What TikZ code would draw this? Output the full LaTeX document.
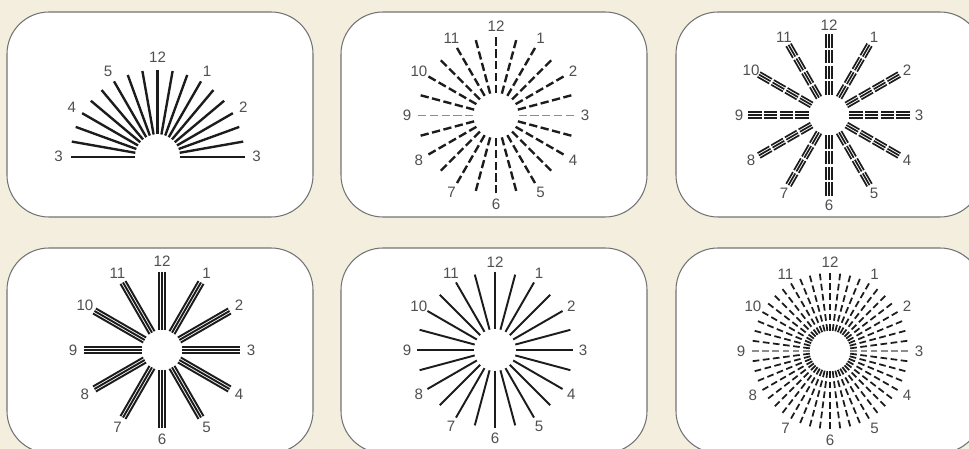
\documentclass[tikz,border=0pt]{standalone}
\usepackage{fontspec}
\setmainfont{Liberation Sans}
\usepackage{xcolor}
\definecolor{paper}{RGB}{243,238,222}
\definecolor{ink}{RGB}{28,28,28}
\definecolor{numgray}{RGB}{80,80,80}
\definecolor{rim}{RGB}{115,115,115}
\definecolor{faint}{RGB}{140,140,140}

\begin{document}
\begin{tikzpicture}[
    x=0.02cm, y=0.02cm,
    font=\fontsize{8.6}{10}\selectfont,
    panel/.style={draw=rim, line width=0.6pt, fill=white, rounded corners=0.84cm},
    num/.style={text=numgray, inner sep=0pt},
    ray/.style={draw=ink, line width=1.35pt},
    thinray/.style={draw=ink, line width=1.1pt},
    dashray/.style={draw=ink, line width=1.35pt, dash pattern=on 4.7pt off 2pt},
    fineray/.style={draw=ink, line width=1pt, dash pattern=on 3.8pt off 2pt},
    triray/.style={draw=ink, line width=0.95pt}
  ]
  \clip (0,0) rectangle (969,449);
  \fill[paper] (0,0) rectangle (969,449);

  % six cards
  \foreach \cx in {160,494,829}
    \foreach \cy in {334.5,98.5}
      \draw[panel] (\cx-153,\cy-102.5) rectangle (\cx+153,\cy+102.5);

  % half fan
  \begin{scope}[shift={(157.5,292.3)}]
    \foreach \a in {0,10,...,180}
      \draw[ray] (\a:22.5) -- (\a:87);
    \foreach \a/\n in {180/3,150/4,120/5,90/12,60/1,30/2,0/3}
      \node[num] (fan-\a) at (\a:99) {\n};
  \end{scope}

  % dashed dial, 24 rays
  \begin{scope}[shift={(496,333.5)}]
    \foreach \a in {15,30,...,165,195,210,...,345}
      \draw[dashray] (\a:78) -- (\a:21);
    \draw[dashray, draw=faint, line width=0.9pt] (0:78) -- (0:21);
    \draw[dashray, draw=faint, line width=0.9pt] (180:78) -- (180:21);
    \foreach \h in {1,...,12}
      \node[num] (dash-\h) at ({90-30*\h}:89) {\h};
  \end{scope}

  % triple dashed spokes
  \begin{scope}[shift={(829,334)}]
    \foreach \a in {0,30,...,330}
      \foreach \o in {-2.7,0,2.7}
        \draw[triray, dash pattern=on 7.7pt off 1.3pt, rotate=\a] (81,\o) -- (20,\o);
    \foreach \h in {1,...,12}
      \node[num] (tri-\h) at ({90-30*\h}:90) {\h};
  \end{scope}

  % triple solid spokes
  \begin{scope}[shift={(162,99)}]
    \foreach \a in {0,30,...,330}
      \foreach \o in {-2.9,0,2.9}
        \draw[triray, line width=1.1pt, rotate=\a] (20,\o) -- (78,\o);
    \foreach \h in {1,...,12}
      \node[num] (bar-\h) at ({90-30*\h}:89) {\h};
  \end{scope}

  % solid dial, 24 rays
  \begin{scope}[shift={(495,99)}]
    \foreach \a in {0,15,...,345}
      \draw[thinray] (\a:21) -- (\a:78);
    \foreach \h in {1,...,12}
      \node[num] (line-\h) at ({90-30*\h}:88) {\h};
  \end{scope}

  % fine dashed dial, 48 rays
  \begin{scope}[shift={(830,98)}]
    \foreach \a in {7.5,15,...,172.5,187.5,195,...,352.5}
      \draw[fineray] (\a:78) -- (\a:20);
    \draw[fineray, draw=faint, line width=0.75pt] (0:78) -- (0:20);
    \draw[fineray, draw=faint, line width=0.75pt] (180:78) -- (180:20);
    \foreach \h in {1,...,12}
      \node[num] (fine-\h) at ({90-30*\h}:89) {\h};
  \end{scope}
\end{tikzpicture}
\end{document}
